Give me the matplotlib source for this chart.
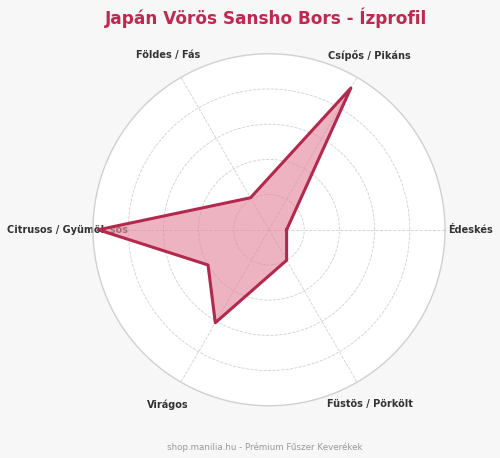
import numpy as np
import matplotlib
matplotlib.use("Agg")
from matplotlib import pyplot as plt

# flavour axes, counter-clockwise from the right
categories = ["Édeskés", "Csípős / Pikáns", "Földes / Fás",
              "Citrusos / Gyümölcsös", "Virágos", "Füstös / Pörkölt"]
scores = [1.0, 9.3, 2.1, 9.7, 6.1, 2.0]
# extra kink in the outline between Citrusos and Virágos (index, value)
extra_point = (3.5, 4.0)

title = "Japán Vörös Sansho Bors - Ízprofil"
footer = "shop.manilia.hu - Prémium Fűszer Keverékek"

n = len(categories)
step = 2 * np.pi / n
angles = [i * step for i in range(n)]

# build outline, slot the extra point in after its index
pts = list(zip(angles, scores))
pts.insert(int(extra_point[0]) + 1, (extra_point[0] * step, extra_point[1]))
pts.append(pts[0])
theta = [p[0] for p in pts]
r = [p[1] for p in pts]

fig = plt.figure(figsize=(5, 4.58), dpi=100, facecolor="#f7f7f7")
ax = fig.add_axes([0.186, 0.114, 0.704, 0.7686], projection="polar")
ax.set_facecolor("white")

ax.fill(theta, r, color="#e48a9e", alpha=0.65, zorder=3)
ax.plot(theta, r, color="#b3284d", linewidth=2.2, zorder=4)

ax.set_ylim(0, 10)
ax.set_yticks([2, 4, 6, 8])
ax.set_yticklabels([])
ax.set_xticks(angles)
ax.set_xticklabels(categories, fontsize=7, fontweight="bold", color="#333333")
ax.tick_params(axis="x", pad=8)
ax.grid(True, color="#d0d0d0", linestyle="--", linewidth=0.6)
ax.spines["polar"].set_color("#d0d0d0")
ax.spines["polar"].set_linewidth(1)

fig.text(0.533, 0.962, title, ha="center", va="center", fontsize=12.2,
         fontweight="bold", color="#c0284f")
fig.text(0.53, 0.024, footer, ha="center", va="center", fontsize=6.3,
         color="#999999")

plt.savefig("out.png", facecolor=fig.get_facecolor())
